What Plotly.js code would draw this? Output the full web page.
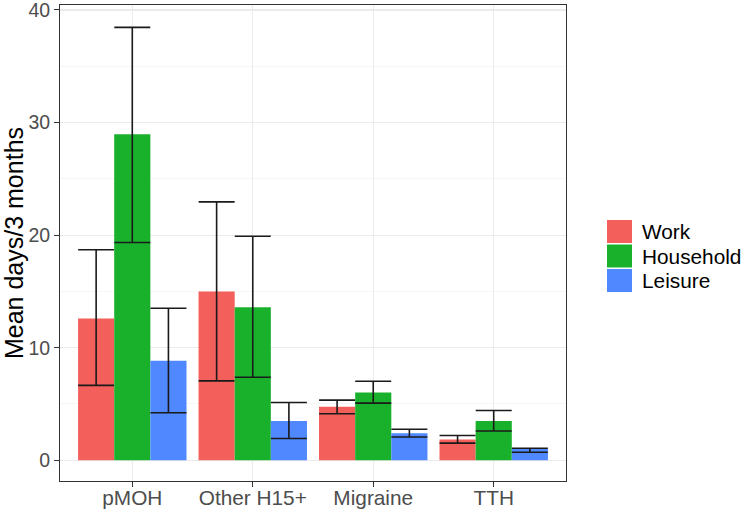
<!DOCTYPE html>
<html>
<head>
<meta charset="utf-8">
<script src="https://cdn.plot.ly/plotly-3.0.1.min.js"></script>
<style>html,body{margin:0;padding:0;background:#fff;}#chart{width:744px;height:511px;}</style>
</head>
<body>
<div id="chart"></div>
<script>
// ---- data ----
var categories = ['pMOH', 'Other H15+', 'Migraine', 'TTH'];
var seriesNames = ['Work', 'Household', 'Leisure'];
var work        = [12.6, 15.0, 4.75, 1.85];
var workLo      = [6.65, 7.05, 4.13, 1.52];
var workHi      = [18.7, 22.95, 5.34, 2.2];
var household   = [28.95, 13.6, 6.02, 3.49];
var householdLo = [19.35, 7.37, 5.08, 2.6];
var householdHi = [38.45, 19.9, 7.02, 4.42];
var leisure     = [8.84, 3.49, 2.4, 1.0];
var leisureLo   = [4.22, 1.93, 2.07, 0.72];
var leisureHi   = [13.5, 5.13, 2.75, 1.07];
var yTickVals   = [0, 10, 20, 30, 40];

// ---- styling ----
var colors = ['#F35F5B', '#19B02C', '#4F88FF'];
var FONT = 'Liberation Sans, Arial, Helvetica, sans-serif';

var L = 60, R = 566, T = 5, B = 481, W = 744, H = 511;
function px2x(px) { return (px - L) / (R - L); }
function py2y(py) { return (B - py) / (B - T); }

var vals = [work, household, leisure];
var los = [workLo, householdLo, leisureLo];
var his = [workHi, householdHi, leisureHi];

var traces = seriesNames.map(function (name, i) {
  return {
    type: 'bar',
    name: name,
    x: categories,
    y: vals[i],
    marker: { color: colors[i], line: { width: 0 } },
    error_y: {
      type: 'data',
      symmetric: false,
      array: vals[i].map(function (v, k) { return his[i][k] - v; }),
      arrayminus: vals[i].map(function (v, k) { return v - los[i][k]; }),
      color: '#1a1a1a',
      thickness: 1.6,
      width: 18
    },
    showlegend: false,
    hoverinfo: 'x+y+name'
  };
});

// custom legend (ggplot-style large keys)
var shapes = [], annotations = [];
var legTop = 220, keyH = 23, keyGap = 1.5, keyL = 607, keyR = 632;
seriesNames.forEach(function (name, i) {
  var y0 = legTop + i * (keyH + keyGap);
  shapes.push({
    type: 'rect', xref: 'paper', yref: 'paper',
    x0: px2x(keyL), x1: px2x(keyR), y0: py2y(y0 + keyH), y1: py2y(y0),
    fillcolor: colors[i], line: { width: 0 }
  });
  annotations.push({
    xref: 'paper', yref: 'paper', x: px2x(640), y: py2y(y0 + keyH / 2),
    xanchor: 'left', yanchor: 'middle', showarrow: false,
    text: name, font: { family: FONT, size: 20.8, color: '#000' }
  });
});

var layout = {
  width: W, height: H,
  margin: { l: L, r: W - R, t: T, b: H - B, pad: 0 },
  paper_bgcolor: '#fff', plot_bgcolor: '#fff',
  barmode: 'group', bargap: 0.1, bargroupgap: 0,
  showlegend: false,
  font: { family: FONT },
  xaxis: {
    type: 'category',
    range: [-0.6, 3.6],
    showgrid: true, gridcolor: '#EBEBEB', gridwidth: 1.2,
    showline: true, mirror: true, linecolor: '#333333', linewidth: 1,
    ticks: 'outside', ticklen: 5, tickwidth: 1, tickcolor: '#333333',
    tickfont: { family: FONT, size: 20.8, color: '#4D4D4D' },
    ticklabelstandoff: -7, ticklabeloverflow: 'allow',
    zeroline: false, automargin: false
  },
  yaxis: {
    range: [-1.84, 40.44],
    tickvals: yTickVals,
    ticktext: yTickVals.map(String),
    showgrid: true, gridcolor: '#EBEBEB', gridwidth: 1.2,
    minor: { dtick: 5, tick0: 0, showgrid: true, gridcolor: '#F2F2F2', gridwidth: 0.7 },
    showline: true, mirror: true, linecolor: '#333333', linewidth: 1,
    ticks: 'outside', ticklen: 5, tickwidth: 1, tickcolor: '#333333',
    tickfont: { family: FONT, size: 19.5, color: '#4D4D4D' },
    ticklabeloverflow: 'allow',
    zeroline: false, automargin: false,
    title: { text: 'Mean days/3 months', font: { family: FONT, size: 25, color: '#000' }, standoff: 6 }
  },
  shapes: shapes,
  annotations: annotations
};

Plotly.newPlot('chart', traces, layout, { displayModeBar: false, staticPlot: true });
</script>
</body>
</html>
